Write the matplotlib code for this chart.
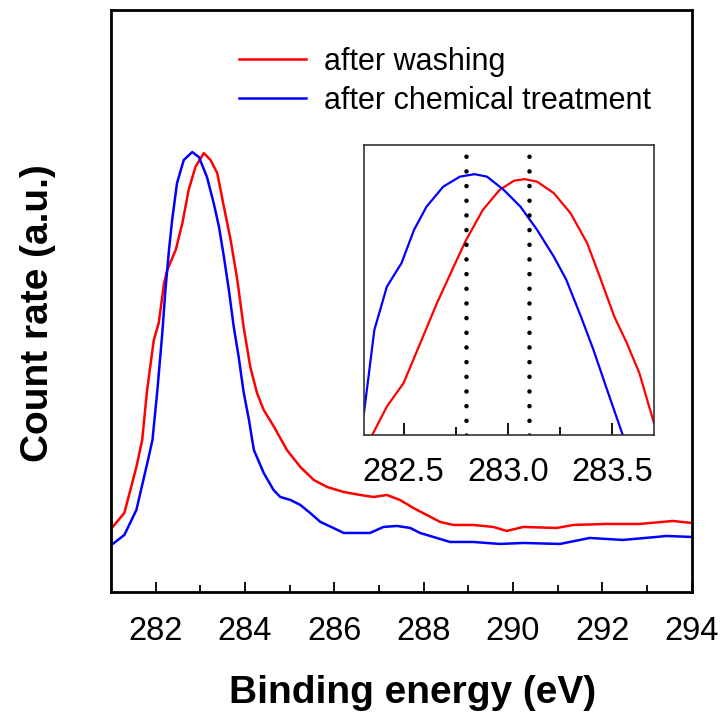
import numpy as np
import matplotlib
matplotlib.use("Agg")
import matplotlib.pyplot as plt

# Binding energy (eV) and count rate (a.u.)
washEnergy = [281.04, 281.30, 281.57, 281.70, 281.81, 281.96, 282.07, 282.19, 282.26, 282.45,
              282.60, 282.74, 282.89, 283.08, 283.23, 283.38, 283.53, 283.68, 283.83, 283.97,
              284.12, 284.27, 284.42, 284.64, 284.94, 285.24, 285.54, 285.84, 286.21, 286.58,
              286.88, 287.18, 287.47, 287.77, 288.07, 288.37, 288.67, 289.11, 289.56, 289.86,
              290.23, 290.98, 291.35, 292.09, 292.84, 293.58, 294.00]
washCounts = [65, 79, 125, 152, 202, 252, 269, 309, 322, 342,
              369, 402, 425, 439, 432, 419, 385, 352, 312, 265,
              225, 199, 182, 166, 142, 125, 112, 105, 100, 97,
              95, 97, 92, 84, 77, 70, 67, 67, 65, 61,
              65, 64, 67, 68, 68, 71, 69]

chemEnergy = [281.04, 281.30, 281.57, 281.83, 281.93, 282.04, 282.15, 282.22, 282.30, 282.37,
              282.48, 282.63, 282.82, 282.97, 283.15, 283.30, 283.42, 283.53, 283.64, 283.75,
              283.86, 283.97, 284.09, 284.20, 284.42, 284.64, 284.79, 285.02, 285.24, 285.46,
              285.69, 285.98, 286.21, 286.51, 286.80, 287.10, 287.40, 287.70, 287.92, 288.22,
              288.59, 289.11, 289.71, 290.23, 291.05, 291.72, 292.46, 293.21, 293.43, 294.00]
chemCounts = [48, 57, 82, 132, 152, 202, 259, 302, 342, 372,
              409, 432, 440, 435, 415, 389, 365, 335, 302, 265,
              235, 200, 172, 142, 119, 102, 95, 92, 87, 79,
              70, 64, 59, 59, 59, 65, 66, 64, 59, 55,
              50, 50, 48, 49, 48, 54, 52, 55, 56, 55]

# Inset: peak region
insetWashEnergy = [282.35, 282.42, 282.50, 282.58, 282.66, 282.74, 282.80, 282.88, 282.96, 283.03,
                   283.08, 283.14, 283.22, 283.30, 283.38, 283.44, 283.51, 283.57, 283.63, 283.70]
insetWashCounts = [336, 347.3, 356.7, 372.7, 388.7, 403.3, 414, 426, 434, 437.7,
                   438.3, 437.3, 432.7, 424.7, 412.7, 399.3, 383.3, 372.7, 360.7, 340.7]

insetChemEnergy = [282.31, 282.36, 282.42, 282.49, 282.55, 282.61, 282.69, 282.77, 282.84, 282.90,
                   282.98, 283.06, 283.14, 283.22, 283.28, 283.35, 283.41, 283.47, 283.55]
insetChemCounts = [344.7, 378, 395.3, 404.7, 418, 427.3, 435.3, 439.3, 440.3, 439.3,
                   434, 427.3, 418, 407.3, 398, 383.3, 370, 355.3, 336]

# Peak positions marked in the inset
peakMarks = [282.8, 283.1]

labels = ["after washing", "after chemical treatment"]

plt.rcParams['font.family'] = ['Liberation Sans', 'DejaVu Sans']
plt.rcParams['font.size'] = 23.5

fig = plt.figure(figsize=(7.25, 7.21), dpi=100)
ax = fig.add_axes([0.153, 0.179, 0.801, 0.807])

ax.plot(washEnergy, washCounts, color="#ff0000", lw=1.8, label=labels[0])
ax.plot(chemEnergy, chemCounts, color="#0000ff", lw=1.8, label=labels[1])

ax.set_xlim(281, 294)
ax.set_ylim(0, 582)
ax.set_xticks(np.arange(282, 295, 2))
ax.set_xticks(np.arange(283, 294, 2), minor=True)
ax.set_yticks([])
ax.tick_params(axis='x', which='major', direction='in', length=7.5, width=1.3, pad=17)
ax.tick_params(axis='x', which='minor', direction='in', length=5, width=1.3)
for s in ax.spines.values():
    s.set_linewidth(2)

ax.set_xlabel("Binding energy (eV)", fontweight='bold', fontsize=28)
ax.set_ylabel("Count rate (a.u.)", fontweight='bold', fontsize=28)
ax.xaxis.set_label_coords(0.52, -0.143)
ax.yaxis.set_label_coords(-0.095, 0.48)

ax.legend(loc='upper left', bbox_to_anchor=(0.173, 0.984), frameon=False,
          handlelength=2.2, handletextpad=0.6, labelspacing=0.3, fontsize=22)

# Inset zoom on the peak
ins = fig.add_axes([0.502, 0.397, 0.400, 0.402])
ins.plot(insetWashEnergy, insetWashCounts, color="#ff0000", lw=1.6)
ins.plot(insetChemEnergy, insetChemCounts, color="#0000ff", lw=1.6)
for p in peakMarks:
    ins.axvline(p, color="black", lw=3.3, dashes=(0.001, 3.2), dash_capstyle='round')
ins.set_xlim(282.31, 283.70)
ins.set_ylim(336, 452)
ins.set_xticks([282.5, 283.0, 283.5])
ins.set_xticklabels(["282.5", "283.0", "283.5"])
ins.set_xticks([282.75, 283.25], minor=True)
ins.set_yticks([])
ins.tick_params(axis='x', which='major', direction='in', length=9, width=1.3, pad=16)
ins.tick_params(axis='x', which='minor', direction='in', length=6, width=1.3)
for s in ins.spines.values():
    s.set_linewidth(1.2)
    s.set_color("#333333")

fig.savefig("out.png", dpi=100)
